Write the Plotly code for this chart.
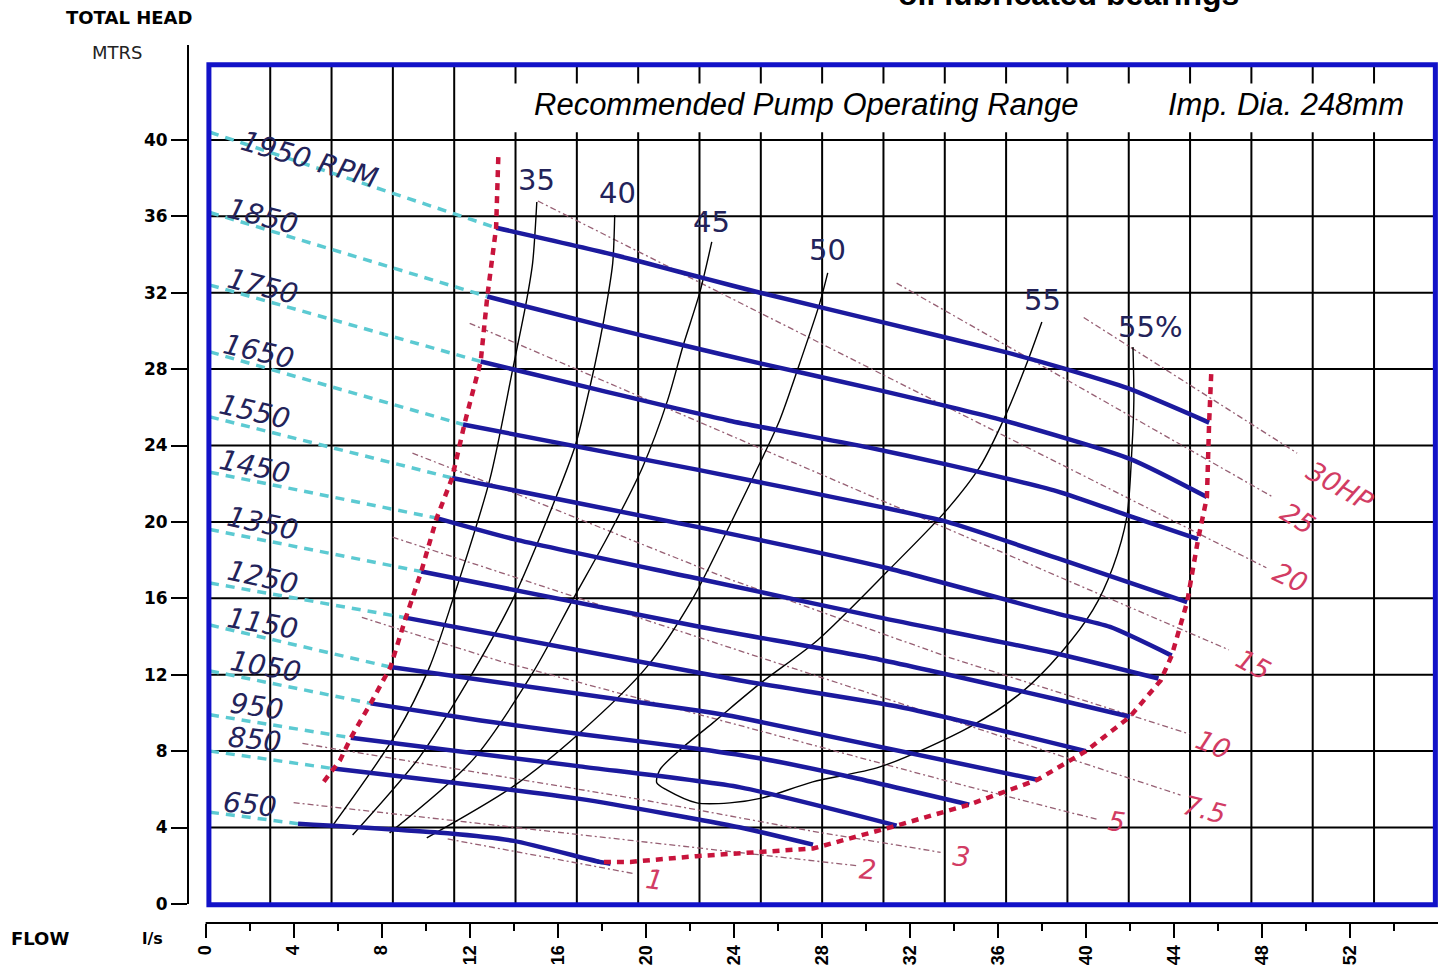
import plotly.graph_objects as go

# ---------------- axis ticks ----------------
x_ticks = list(range(0, 53, 4))
y_ticks = list(range(0, 41, 4))

# ---------------- speed curves: flow (l/s) / head (m) ----------------
rpm_labels = ["1950 RPM", "1850", "1750", "1650", "1550", "1450", "1350",
              "1250", "1150", "1050", "950", "850", "650"]

q_1950 = [13.2, 18.5, 22.5, 25.2, 30.6, 36.3, 39.1, 41.9, 45.6]
h_1950 = [35.4, 34.0, 32.8, 32.0, 30.5, 28.9, 28.0, 27.0, 25.2]
q_1850 = [12.8, 17.9, 21.9, 25.2, 30.6, 36.3, 42.0, 45.5]
h_1850 = [31.8, 30.3, 29.2, 28.3, 26.9, 25.3, 23.3, 21.3]
q_1750 = [12.5, 17.9, 23.8, 30.1, 33.7, 38.7, 42.0, 45.1]
h_1750 = [28.4, 26.9, 25.3, 23.9, 23.0, 21.6, 20.3, 19.1]
q_1650 = [11.7, 22.5, 30.6, 33.7, 38.7, 44.6]
h_1650 = [25.1, 22.7, 20.8, 20.0, 18.1, 15.8]
q_1550 = [11.2, 22.5, 30.9, 38.7, 41.1, 43.9]
h_1550 = [22.3, 19.7, 17.6, 15.2, 14.5, 13.0]
q_1450 = [10.5, 14.0, 22.5, 30.6, 38.7, 43.3]
h_1450 = [20.2, 19.1, 17.0, 15.0, 13.1, 11.8]
q_1350 = [9.8, 22.5, 30.6, 38.7, 42.0]
h_1350 = [17.4, 14.5, 12.8, 10.7, 9.8]
q_1250 = [9.0, 24.3, 31.6, 40.0]
h_1250 = [15.0, 11.7, 10.3, 8.0]
q_1150 = [8.4, 22.5, 24.3, 37.8]
h_1150 = [12.4, 10.1, 9.75, 6.5]
q_1050 = [7.5, 12.5, 17.0, 22.5, 25.3, 29.1, 34.7]
h_1050 = [10.5, 9.6, 8.9, 8.1, 7.6, 6.7, 5.2]
q_950 = [6.6, 17.0, 24.3, 31.4]
h_950 = [8.7, 7.2, 6.1, 4.1]
q_850 = [5.7, 17.0, 24.3, 27.6]
h_850 = [7.1, 5.5, 4.0, 3.1]
q_650 = [4.2, 11.0, 14.0, 17.9, 18.4]
h_650 = [4.2, 3.7, 3.3, 2.2, 2.1]

speed_q = [q_1950, q_1850, q_1750, q_1650, q_1550, q_1450, q_1350,
           q_1250, q_1150, q_1050, q_950, q_850, q_650]
speed_h = [h_1950, h_1850, h_1750, h_1650, h_1550, h_1450, h_1350,
           h_1250, h_1150, h_1050, h_950, h_850, h_650]

# shut-off head (flow 0) of the dashed extensions
shutoff_head = [40.4, 36.2, 32.4, 28.9, 25.5, 22.6, 19.6, 16.8, 14.6, 12.2, 9.9, 8.0, 4.8]

# ---------------- operating range boundary ----------------
left_bound_q = [13.3, 13.2, 12.8, 12.5, 11.8, 11.2, 10.5, 9.8, 9.1, 8.4, 7.5, 6.6, 6.1, 5.3]
left_bound_h = [39.1, 35.4, 31.8, 28.4, 25.3, 22.3, 20.2, 17.4, 15.0, 12.4, 10.5, 8.7, 7.5, 6.3]
right_bound_q = [18.1, 19.3, 22.3, 25.3, 27.6, 31.4, 34.7, 37.8, 40.0, 42.0, 43.4, 43.9, 44.6, 45.1, 45.5, 45.6, 45.7]
right_bound_h = [2.2, 2.2, 2.5, 2.7, 2.9, 4.1, 5.2, 6.5, 8.0, 9.8, 11.7, 13.0, 15.8, 19.1, 21.3, 25.2, 27.9]

# ---------------- efficiency lines ----------------
eff_labels = ["35", "40", "45", "50", "55", "55%"]
eff35_q = [15.05, 14.86, 14.59, 13.95, 12.91, 11.23, 10.18, 8.68, 5.73]
eff35_h = [36.75, 33.56, 31.62, 27.96, 22.2, 15.92, 12.41, 8.95, 4.03]
eff40_q = [18.59, 18.5, 18.25, 17.9, 17.45, 16.8, 15.75, 13.95, 11.86, 9.73, 6.68]
eff40_h = [36.07, 33.56, 31.6, 29.4, 27.0, 24.0, 20.79, 15.92, 11.57, 7.7, 3.61]
eff45_q = [23.0, 22.45, 21.68, 21.0, 19.86, 18.36, 16.68, 14.86, 12.14, 8.36]
eff45_h = [34.66, 31.99, 29.16, 26.39, 22.88, 19.42, 15.92, 12.09, 7.54, 3.72]
eff50_q = [28.27, 27.91, 27.0, 26.09, 25.32, 24.0, 22.1, 20.05, 17.0, 13.95, 10.05]
eff50_h = [33.04, 31.47, 28.32, 25.34, 23.4, 20.26, 15.92, 12.41, 8.95, 6.13, 3.46]
eff55_q = [38.0, 37.32, 36.32, 35.18, 33.68, 31.05, 27.82, 25.23, 23.05, 21.55, 20.64, 20.5,
           20.95, 22.32, 23.82, 25.32, 27.59, 30.64, 34.73, 37.05, 38.86, 40.32, 41.23,
           41.86, 42.09, 42.18, 42.14]
eff55_h = [30.47, 28.32, 25.5, 22.88, 20.63, 17.49, 13.82, 11.57, 9.48, 8.06, 7.02, 6.34,
           5.97, 5.29, 5.29, 5.55, 6.39, 7.17, 9.27, 11.05, 13.14, 15.39, 17.64,
           20.26, 23.77, 26.39, 29.16]
eff_lines_q = [eff35_q, eff40_q, eff45_q, eff50_q, eff55_q]
eff_lines_h = [eff35_h, eff40_h, eff45_h, eff50_h, eff55_h]

# ---------------- power lines (HP) ----------------
hp_labels = ["30HP", "25", "20", "15", "10", "7.5", "5", "3", "2", "1"]
hp30_q = [39.9, 49.6]
hp30_h = [30.7, 23.6]
hp25_q = [31.4, 48.5]
hp25_h = [32.5, 21.3]
hp20_q = [15.1, 48.2]
hp20_h = [36.8, 17.6]
hp15_q = [12.0, 46.5]
hp15_h = [30.4, 13.3]
hp10_q = [9.4, 13.4, 23.8, 33.8, 44.7]
hp10_h = [23.6, 21.8, 17.0, 12.9, 8.9]
hp7_q = [8.5, 44.3]
hp7_h = [19.2, 5.7]
hp5_q = [7.1, 13.4, 33.8, 40.6]
hp5_h = [15.0, 12.7, 6.4, 4.4]
hp3_q = [4.4, 13.4, 20.1, 27.6, 33.4]
hp3_h = [8.4, 6.7, 5.4, 3.8, 2.7]
hp2_q = [4.0, 29.6]
hp2_h = [5.3, 2.0]
hp1_q = [11.0, 19.4]
hp1_h = [3.4, 1.6]
hp_q = [hp30_q, hp25_q, hp20_q, hp15_q, hp10_q, hp7_q, hp5_q, hp3_q, hp2_q, hp1_q]
hp_h = [hp30_h, hp25_h, hp20_h, hp15_h, hp10_h, hp7_h, hp5_h, hp3_h, hp2_h, hp1_h]

# ---------------- label placements ----------------
rpm_label_q = [4.7, 2.6, 2.6, 2.4, 2.2, 2.2, 2.6, 2.6, 2.6, 2.7, 2.3, 2.2, 2.0]
rpm_label_h = [38.95, 35.97, 32.3, 28.9, 25.76, 22.88, 19.9, 17.07, 14.66, 12.41, 10.31, 8.59, 5.18]
rpm_label_ang = [16, 14, 14, 13, 13, 12, 12, 12, 10, 10, 8, 6, 6]
eff_label_q = [15.05, 18.73, 23.0, 28.27, 38.05, 42.91]
eff_label_h = [37.9, 37.23, 35.71, 34.24, 31.62, 30.21]
hp_label_q = [51.55, 49.64, 49.27, 47.59, 45.77, 45.41, 41.41, 34.36, 30.09, 20.41]
hp_label_h = [21.83, 20.2, 17.07, 12.51, 8.32, 4.92, 4.29, 2.46, 1.78, 1.26]
hp_label_ang = [30, 32, 25, 28, 22, 14, 8, 6, 4, 8]

# ---------------- styling ----------------
BLUE = "#1c1a9e"
BOX = "#1212c8"
CYAN = "#5ccad2"
RED = "#c8143c"
PINK = "#d23c64"
HPLINE = "rgb(150,95,115)"
TXT = "#23235a"

fig = go.Figure()

# grid (box = 20 columns x 11 rows)
box_x0, box_x1, box_y0, box_y1 = 0.15, 55.88, -0.05, 43.93
n_cols, n_rows = 20, 11
shapes = []
for k in range(1, n_cols):
    xv = box_x0 + k * (box_x1 - box_x0) / n_cols
    shapes.append(dict(type="line", xref="x", yref="y", x0=xv, x1=xv, y0=box_y0, y1=box_y1,
                       line=dict(color="black", width=2), layer="below"))
for k in range(1, n_rows):
    shapes.append(dict(type="line", xref="x", yref="y", x0=box_x0, x1=box_x1, y0=4 * k, y1=4 * k,
                       line=dict(color="black", width=2), layer="below"))
# white band behind the header text
shapes.append(dict(type="rect", xref="x", yref="y", x0=13.9, x1=55.7, y0=40.4, y1=42.95,
                   line=dict(width=0), fillcolor="white", layer="below"))
# box border
shapes.append(dict(type="rect", xref="x", yref="y", x0=box_x0, x1=box_x1, y0=box_y0, y1=box_y1,
                   line=dict(color=BOX, width=5), layer="above"))
# separate axis lines
shapes.append(dict(type="line", xref="paper", yref="y", x0=0, x1=0, y0=0, y1=44.97,
                   line=dict(color="black", width=2)))
shapes.append(dict(type="line", xref="x", yref="paper", x0=0, x1=56.0, y0=0, y1=0,
                   line=dict(color="black", width=2)))

# power lines
for q, h in zip(hp_q, hp_h):
    fig.add_trace(go.Scatter(x=q, y=h, mode="lines", hoverinfo="skip",
                             line=dict(color=HPLINE, width=1.3, dash="6px,3px,2px,3px")))
# efficiency lines
for q, h in zip(eff_lines_q, eff_lines_h):
    fig.add_trace(go.Scatter(x=q, y=h, mode="lines", hoverinfo="skip",
                             line=dict(color="black", width=1.4, shape="spline", smoothing=0.8)))
# dashed extensions to shut-off
for q, h, h0 in zip(speed_q, speed_h, shutoff_head):
    fig.add_trace(go.Scatter(x=[0.2, q[0]], y=[h0, h[0]], mode="lines", hoverinfo="skip",
                             line=dict(color=CYAN, width=3.5, dash="9px,7px")))
# speed curves
for q, h in zip(speed_q, speed_h):
    fig.add_trace(go.Scatter(x=q, y=h, mode="lines", hoverinfo="skip",
                             line=dict(color=BLUE, width=4.5, shape="spline", smoothing=0.6)))
# operating range boundary
for q, h in ((left_bound_q, left_bound_h), (right_bound_q, right_bound_h)):
    fig.add_trace(go.Scatter(x=q, y=h, mode="lines", hoverinfo="skip",
                             line=dict(color=RED, width=4.5, dash="7px,6px")))

ann = []
for t, xq, yh, a in zip(rpm_labels, rpm_label_q, rpm_label_h, rpm_label_ang):
    ann.append(dict(x=xq, y=yh, xref="x", yref="y", text=t, showarrow=False, textangle=a,
                    xanchor="center", yanchor="middle",
                    font=dict(family="DejaVu Sans", size=28, color=TXT, style="italic")))
for t, xq, yh in zip(eff_labels, eff_label_q, eff_label_h):
    ann.append(dict(x=xq, y=yh, xref="x", yref="y", text=t, showarrow=False,
                    xanchor="center", yanchor="middle",
                    font=dict(family="DejaVu Sans", size=29, color=TXT)))
for t, xq, yh, a in zip(hp_labels, hp_label_q, hp_label_h, hp_label_ang):
    ann.append(dict(x=xq, y=yh, xref="x", yref="y", text=t, showarrow=False, textangle=a,
                    xanchor="center", yanchor="middle",
                    font=dict(family="DejaVu Sans", size=27, color=PINK, style="italic")))


def paper_text(text, px, py, size, weight="normal", color="black", family="DejaVu Sans", style="normal"):
    # px, py: pixel position of the text centre in the 1447x966 figure
    return dict(x=(px - 188) / 1250, y=(923 - py) / 878, xref="paper", yref="paper", text=text,
                showarrow=False, xanchor="center", yanchor="middle",
                font=dict(family=family, size=size, color=color, weight=weight, style=style))


ann += [
    dict(x=27.3, y=41.85, xref="x", yref="y", text="Recommended Pump Operating Range",
         showarrow=False, xanchor="center", yanchor="middle",
         font=dict(family="Liberation Sans", size=31, color="black", style="italic")),
    dict(x=49.1, y=41.85, xref="x", yref="y", text="Imp. Dia. 248mm",
         showarrow=False, xanchor="center", yanchor="middle",
         font=dict(family="Liberation Sans", size=31, color="black", style="italic")),
    # title is cut by the top edge in the reference as well
    paper_text("oil lubricated bearings", 1068, -6, 32, weight="bold", family="Liberation Sans"),
    paper_text("TOTAL HEAD", 129, 18, 18, weight="bold"),
    paper_text("MTRS", 117, 53, 18, color="#222"),
    paper_text("FLOW", 40, 938, 18, weight="bold"),
    paper_text("l/s", 152, 938, 16, weight="bold"),
]

fig.update_layout(
    width=1447, height=966,
    margin=dict(l=188, r=9, t=45, b=43, autoexpand=False),
    paper_bgcolor="white", plot_bgcolor="white",
    showlegend=False,
    shapes=shapes, annotations=ann,
    xaxis=dict(range=[-0.8, 56.0], tickvals=x_ticks, ticks="outside", ticklen=14, tickwidth=2,
               tickcolor="black", tickangle=-90, showgrid=False, zeroline=False, showline=False,
               automargin=False,
               tickfont=dict(family="Liberation Sans", size=18, color="black", weight="bold"),
               minor=dict(tickvals=[2 + 4 * i for i in range(14)], ticks="outside", ticklen=7,
                          tickwidth=2, tickcolor="black", showgrid=False)),
    yaxis=dict(range=[-1.0, 44.97], tickvals=y_ticks, ticks="outside", ticklen=16, tickwidth=2,
               tickcolor="black", showgrid=False, zeroline=False, showline=False,
               automargin=False,
               tickfont=dict(family="DejaVu Sans", size=17, color="black", weight="bold")),
)

fig.write_html("out.html", config={"displayModeBar": False},
               post_script="document.body.style.margin='0';")
